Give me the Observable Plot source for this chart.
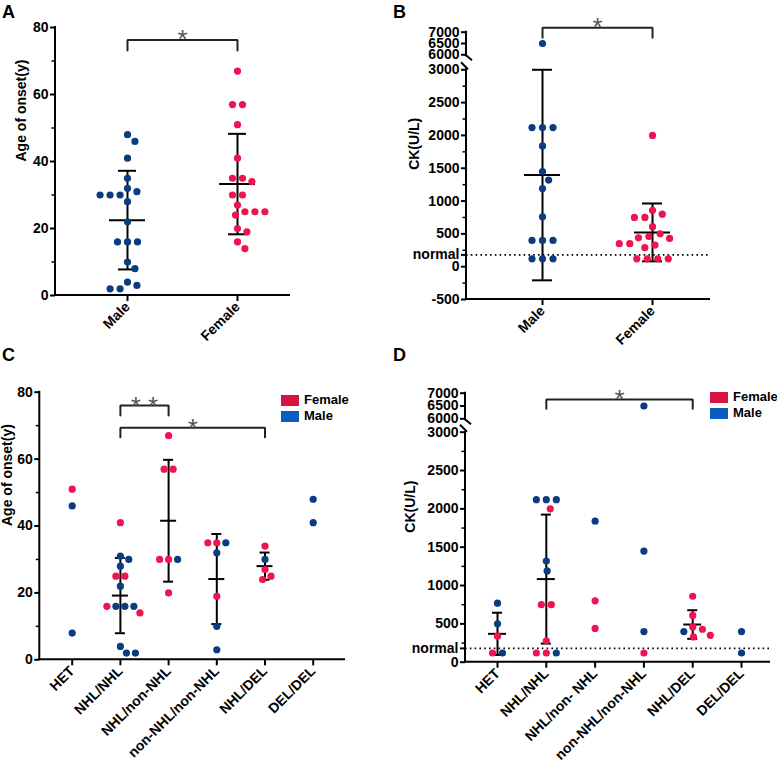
<!DOCTYPE html>
<html><head><meta charset="utf-8">
<script src="https://cdn.jsdelivr.net/npm/d3@7"></script>
<script src="https://cdn.jsdelivr.net/npm/@observablehq/plot@0.6"></script>
<style>
body{margin:0;background:#fff;}
#root{position:relative;width:777px;height:766px;font-family:"Liberation Sans",Arial,sans-serif;color:#000;overflow:hidden;}
.panel{position:absolute;}
.letter{position:absolute;font-weight:bold;font-size:18px;line-height:18px;}
.legend{position:absolute;font-weight:bold;font-size:13px;line-height:16px;}
.legend .row{display:flex;align-items:center;height:16px;}
.legend .sw{width:18px;height:11px;margin-right:5px;}
</style></head>
<body><div id="root"></div>
<script>
// ---------- data ----------
const sexes = ["Male", "Female"];
const ageMale = [48,46,41,35,32,31,30,30,30,28,22,16,16,16,10,8,4,3,2,2];
const ageFemale = [67,57,57,51,41,35,35,34,30,30,27,25,25,25,24,20,19,16,14];
const ckMale = [6500,2120,2120,2120,1840,1450,1320,1190,760,400,400,400,120,120,120];
const ckFemale = [2000,860,800,750,750,610,500,460,440,430,350,350,330,290,120,120,120,120];
const genotypesC = ["HET","NHL/NHL","NHL/non-NHL","non-NHL/non-NHL","NHL/DEL","DEL/DEL"];
const genotypesD = ["HET","NHL/NHL","NHL/non- NHL","non-NHL/non-NHL","NHL/DEL","DEL/DEL"];
const ageGenoFemale = [[51],[41,25,25,16,14],[67,57,57,30,30,20],[35,35,19],[34,27,25,24],[]];
const ageGenoMale = [[46,8],[31,30,28,22,16,16,16,4,2,2],[30],[35,32,10,3],[30],[48,41]];
const ckGenoFemale = [[340,120],[2000,750,750,280,120,120],[800,440],[120],[860,610,460,430,350,330],[]];
const ckGenoMale = [[770,500,120],[2120,2120,2120,1320,1190,120],[1840],[6500,1450,400],[400],[400,120]];
const ckNormal = 180;
const ageTicks = [0,20,40,60,80];
const ageMinor = [10,30,50,70];
const ckTicksB = [-500,0,ckNormal,500,1000,1500,2000,2500,3000,6000,6500,7000];
const ckMinorB = [-250,250,750,1250,1750,2250,2750];
const ckTicksD = [0,ckNormal,500,1000,1500,2000,2500,3000,6000,6500,7000];
const ckMinorD = [250,750,1250,1750,2250,2750];
const sigA = [{from:0, to:1, label:"*"}];
const sigB = [{from:0, to:1, label:"*"}];
const sigC = [{from:1, to:2, label:"* *"}, {from:1, to:4, label:"*"}];
const sigD = [{from:1, to:4, label:"*"}];
const sexNames = ["Female","Male"];

const RED = "#ef1450", NAVY = "#0b3c7f";
const LEG_RED = "#d7143f", LEG_BLUE = "#0b5cbf";

const root = document.getElementById("root");

function swarm(points, pix, pxPerX, D) {
  const out = [];
  for (const [cat, pts] of d3.group(points, p => p.cat)) {
    const placed = [];
    const rows = d3.groups(pts, p => p.value).sort((a, b) => b[0] - a[0]);
    for (const [value, members] of rows) {
      const py = pix(value);
      const n = members.length;
      const rel = members.map((_, k) => (k - (n - 1) / 2) * D);
      const forb = [];
      for (const q of placed) {
        const dy = Math.abs(q.py - py);
        if (dy < D) {
          const w = Math.sqrt(D * D - dy * dy);
          for (const r of rel) forb.push([q.px - w - r, q.px + w - r]);
        }
      }
      const cands = [0];
      for (const [a, b] of forb) cands.push(a, b);
      cands.sort((a, b) => Math.abs(a) - Math.abs(b) || b - a);
      const ok = c => forb.every(([a, b]) => c <= a + 1e-6 || c >= b - 1e-6);
      const c = cands.find(ok) ?? 0;
      members.forEach((m, k) => {
        const px = c + rel[k];
        placed.push({py, px});
        out.push({...m, x: cat + px / pxPerX});
      });
    }
  }
  return out;
}

function makePanel(cfg) {
  const {left, top, width, height, marginLeft, marginRight, marginTop, marginBottom,
    xDomain, yDomain, yRange, cats, points, minN, meanHalfPx, capHalfPx, D,
    yTitle, titleDx, titleDy, ticks, minor, normal, sig, brk} = cfg;
  const pxPerX = (width - marginLeft - marginRight) / (xDomain[1] - xDomain[0]);
  // pixel position of a value on the (possibly broken) axis
  const pix = d3.scaleLinear().domain(yDomain).range(yRange);
  const k = (yRange[0] - yRange[1]) / (yDomain[1] - yDomain[0]);
  // compressed-axis coordinate: linear in the lower segment, squeezed above the break
  const virt = v => yDomain[0] + (yRange[0] - pix(v)) / k;
  const yTop = yDomain[yDomain.length - 1], yBot = yDomain[0];

  const pts = swarm(points, pix, pxPerX, D);
  const stats = d3.groups(points, p => p.cat).filter(([, v]) => v.length >= minN).map(([cat, v]) => {
    const m = d3.mean(v, d => d.value), s = d3.deviation(v, d => d.value);
    return {cat, mean: m, lo: m - s, hi: m + s};
  });
  const caps = stats.flatMap(s => [{cat: s.cat, y: s.lo}, {cat: s.cat, y: s.hi}]);
  const mh = meanHalfPx / pxPerX, ch = capHalfPx / pxPerX;
  const bracketPts = sig.flatMap((b, i) => [
    {id: i, x: b.from, y: b.leg}, {id: i, x: b.from, y: b.level},
    {id: i, x: b.to, y: b.level}, {id: i, x: b.to, y: b.leg}]);

  const axisLines = (index, scales) => {
    const x = scales.x, y = v => scales.y(virt(v));
    const x0 = x(xDomain[0]), x1 = x(xDomain[1]);
    const g = d3.create("svg:g").attr("stroke", "black").attr("stroke-width", 2).attr("fill", "none");
    const line = (a, b, c, d) => g.append("line").attr("x1", a).attr("y1", b).attr("x2", c).attr("y2", d);
    if (brk) {
      const yHi = y(brk[1]), yLo = y(brk[0]);
      line(x0, y(yTop) - 1, x0, yHi + 2);
      line(x0, yHi + 1, x0 + 6, yHi + 6);
      line(x0, yLo - 1, x0, y(yBot));
      line(x0 - 5, yLo - 7, x0 + 2, yLo);
    } else {
      line(x0, y(yTop) - 1, x0, y(yBot));
    }
    line(x0 - 1, y(yBot), x1, y(yBot));
    return g.node();
  };

  const labelOf = new Map(ticks.map(t => [virt(t), t === normal ? "normal" : String(t)]));
  const marks = [];
  if (normal != null) marks.push(Plot.ruleY([normal], {y: virt, strokeDasharray: "1.6,3.2", strokeWidth: 1.6}));
  marks.push(
    Plot.ruleX(stats, {x: "cat", y1: d => virt(d.lo), y2: d => virt(d.hi), strokeWidth: 2}),
    Plot.ruleY(stats, {y: d => virt(d.mean), x1: d => d.cat - mh, x2: d => d.cat + mh, strokeWidth: 2}),
    Plot.ruleY(caps, {y: d => virt(d.y), x1: d => d.cat - ch, x2: d => d.cat + ch, strokeWidth: 2}),
    Plot.dot(pts, {x: "x", y: d => virt(d.value), r: 3.6, fill: "sex", stroke: null}),
    axisLines,
    Plot.axisY(ticks.map(virt), {tickSize: 5, tickPadding: 2, strokeWidth: 2, tickFormat: t => labelOf.get(t), label: null, fontSize: 14, fontWeight: "bold"}),
    Plot.axisY(minor.map(virt), {tickSize: 3.5, strokeWidth: 1.5, tickFormat: () => "", label: null}),
    Plot.axisX(d3.range(cats.length), {tickSize: 6, tickPadding: 3, strokeWidth: 2, tickRotate: -45, tickFormat: i => cats[i], label: null, fontSize: 14, fontWeight: "bold"}),
    Plot.text([yTitle], {text: d => d, frameAnchor: "left", rotate: -90, dx: titleDx, dy: titleDy, fontSize: 14, fontWeight: "bold"}),
    Plot.line(bracketPts, {x: "x", y: d => virt(d.y), z: "id", stroke: "#222", strokeWidth: 2, strokeLinejoin: "miter"}),
    Plot.text(sig, {x: d => (d.from + d.to) / 2, y: d => virt(d.level), text: "label", fontSize: 26, fontWeight: "normal", fill: "#555", dy: cfg.starDy || 0})
  );
  const svg = Plot.plot({
    width, height, marginLeft, marginRight, marginTop, marginBottom,
    x: {domain: xDomain},
    y: {domain: [virt(yBot), virt(yTop)]},
    color: {domain: sexNames, range: [RED, NAVY]},
    style: {fontFamily: '"Liberation Sans", Arial, sans-serif', fontSize: "14px", fontWeight: "bold", color: "black", background: "transparent", overflow: "visible"},
    marks
  });
  const wrap = document.createElement("div");
  wrap.className = "panel";
  wrap.style.left = left + "px";
  wrap.style.top = top + "px";
  wrap.appendChild(svg);
  root.appendChild(wrap);
}

function letter(ch, left, top) {
  const d = document.createElement("div");
  d.className = "letter"; d.textContent = ch;
  d.style.left = left + "px"; d.style.top = top + "px";
  root.appendChild(d);
}
function legend(left, top) {
  const d = document.createElement("div");
  d.className = "legend";
  d.style.left = left + "px"; d.style.top = top + "px";
  [["Female", LEG_RED], ["Male", LEG_BLUE]].forEach(([t, c]) => {
    const r = document.createElement("div"); r.className = "row";
    const s = document.createElement("div"); s.className = "sw"; s.style.background = c;
    const l = document.createElement("span"); l.textContent = t;
    r.appendChild(s); r.appendChild(l); d.appendChild(r);
  });
  root.appendChild(d);
}

const bySex = (arrM, arrF) => [
  ...arrM.map(v => ({cat: 0, value: v, sex: "Male"})),
  ...arrF.map(v => ({cat: 1, value: v, sex: "Female"}))];
const byGeno = (fem, mal) => fem.flatMap((vals, i) => [
  ...vals.map(v => ({cat: i, value: v, sex: "Female"})),
  ...mal[i].map(v => ({cat: i, value: v, sex: "Male"}))]);

// Panel A
makePanel({left: 0, top: 0, width: 290, height: 370, marginLeft: 55, marginRight: 0, marginTop: 27, marginBottom: 75,
  xDomain: [-0.6545, 1.4818], yDomain: [0, 80], yRange: [295, 27], cats: sexes,
  points: bySex(ageMale, ageFemale), minN: 5, meanHalfPx: 18, capHalfPx: 9, D: 10,
  yTitle: "Age of onset(y)", titleDx: -34, titleDy: 0, ticks: ageTicks, minor: ageMinor, normal: null,
  sig: sigA.map(s => ({...s, level: 76.3, leg: 73.1}))});
// Panel B
makePanel({left: 390, top: 0, width: 320, height: 370, marginLeft: 76, marginRight: 0, marginTop: 31.7, marginBottom: 71,
  xDomain: [-0.691, 1.527], yDomain: [-500, 3000, 6000, 7000], yRange: [299, 69.3, 54.3, 31.7], cats: sexes,
  points: bySex(ckMale, ckFemale), minN: 5, meanHalfPx: 18, capHalfPx: 10, D: 10.5,
  yTitle: "CK(U/L)", titleDx: -52, titleDy: 4, ticks: ckTicksB, minor: ckMinorB, normal: ckNormal, brk: [3000, 6000],
  sig: sigB.map(s => ({...s, level: 7195, leg: 6752}))});
// Panel C
makePanel({left: 0, top: 370, width: 390, height: 396, marginLeft: 39.3, marginRight: 45, marginTop: 21.7, marginBottom: 106.7,
  xDomain: [-0.672, 5.67], yDomain: [0, 80], yRange: [289.3, 21.7], cats: genotypesC,
  points: byGeno(ageGenoFemale, ageGenoMale), minN: 5, meanHalfPx: 8, capHalfPx: 5, D: 9,
  yTitle: "Age of onset(y)", titleDx: -32, titleDy: 0, ticks: ageTicks, minor: ageMinor, normal: null, starDy: 1.5,
  sig: sigC.map((s, i) => ({...s, level: i === 0 ? 76.0 : 69.4, leg: i === 0 ? 73.0 : 66.5}))});
// Panel D
makePanel({left: 390, top: 370, width: 387, height: 396, marginLeft: 75, marginRight: 7, marginTop: 22.7, marginBottom: 104.3,
  xDomain: [-0.656, 5.594], yDomain: [0, 3000, 6000, 7000], yRange: [291.7, 61.7, 48.3, 22.7], cats: genotypesD,
  points: byGeno(ckGenoFemale, ckGenoMale), minN: 5, meanHalfPx: 9, capHalfPx: 5, D: 10,
  yTitle: "CK(U/L)", titleDx: -55, titleDy: 5, ticks: ckTicksD, minor: ckMinorD, normal: ckNormal, brk: [3000, 6000],
  sig: sigD.map(s => ({...s, level: 6754, leg: 6390}))});

letter("A", 2, 3);
letter("B", 393, 3);
letter("C", 2, 346);
letter("D", 393, 346);
legend(281, 392);
legend(710, 389);
</script></body></html>
